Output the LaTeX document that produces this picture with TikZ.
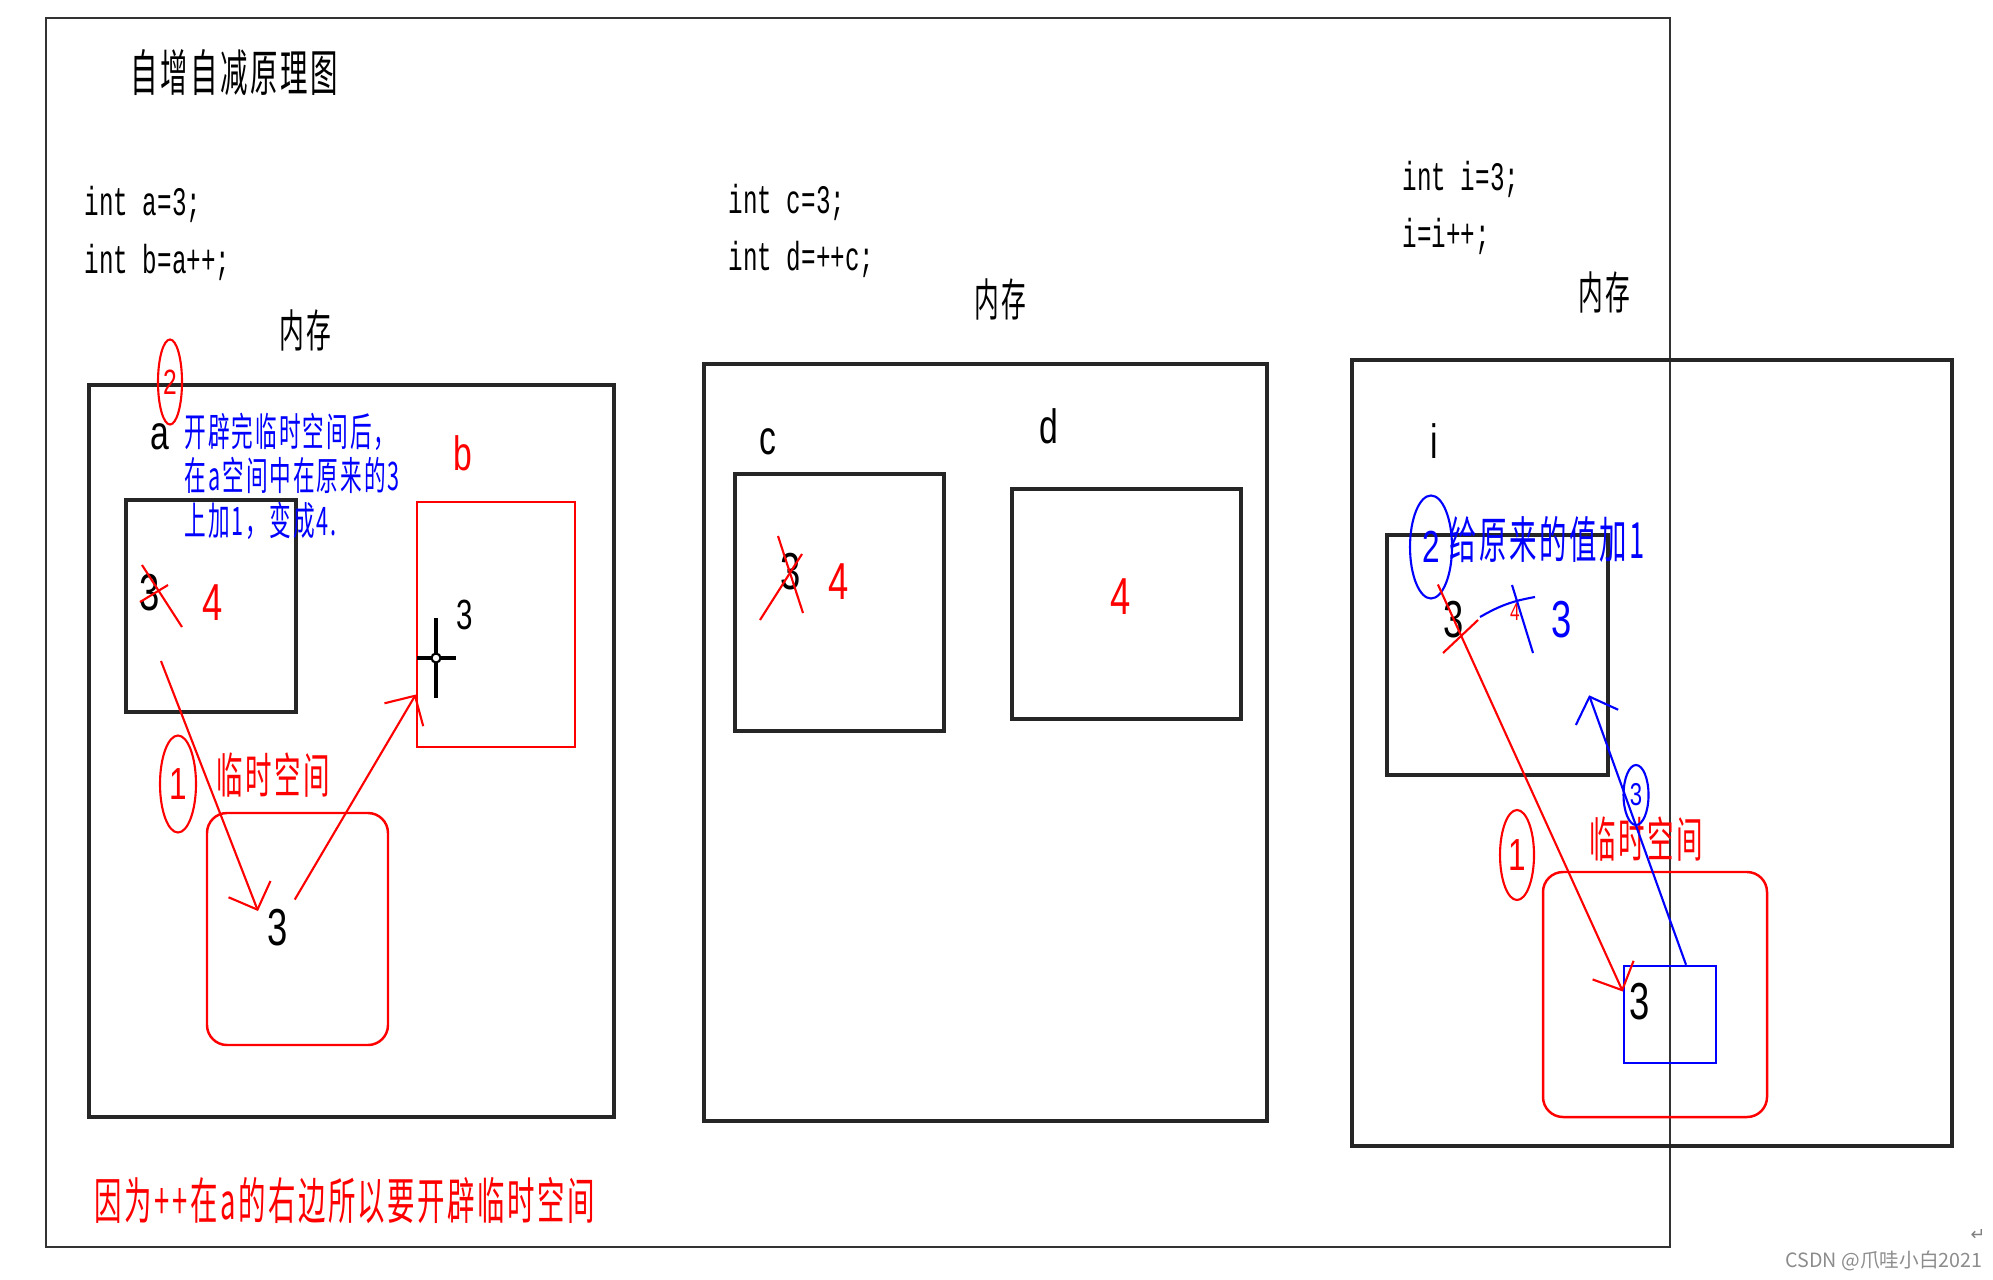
\documentclass[tikz,border=0pt]{standalone}
\usepackage{fontspec}
\setmainfont{Liberation Sans}[FakeStretch=0.7]
\newfontfamily\hanzi{Noto Sans CJK SC}[FakeStretch=0.55,LetterSpace=5]
\newfontfamily\codefont{Liberation Mono}[FakeStretch=0.6]
\newfontfamily\markfont{Noto Sans CJK SC}
\newfontfamily\symfont{DejaVu Sans}
\usetikzlibrary{shapes.geometric,arrows.meta}

\tikzset{
  frame/.style={draw=black!80, line width=0.45pt},
  membox/.style={draw=black!85, line width=0.9pt, inner sep=0pt},
  redbox/.style={draw=red, line width=0.7pt, inner sep=0pt},
  roundbox/.style={draw=red, line width=0.7pt, rounded corners=0.2cm, inner sep=0pt},
  cellbox/.style={draw=blue, line width=0.7pt, inner sep=0pt},
  code/.style={anchor=west, inner sep=0pt, font=\codefont\fontsize{11.5}{12}\selectfont},
  cjk/.style={inner sep=0pt, font=\hanzi\fontsize{#1}{#1}\selectfont},
  digit/.style={inner sep=0pt, font=\fontsize{#1}{#1}\selectfont},
  ring/.style={ellipse, draw, line width=0.6pt, inner sep=0pt},
  redpen/.style={draw=red, line width=0.6pt},
  bluepen/.style={draw=blue, line width=0.6pt},
  barb/.style={-{Straight Barb[length=2.2mm,width=4.5mm]}}
}

\begin{document}
\begin{tikzpicture}[x=1cm,y=-1cm]
\useasboundingbox (0,0) rectangle (19.93,12.79);

% ---------------- FRAME AND TITLE ----------------

\draw[frame] (0.46,0.18) rectangle (16.70,12.47);
\node[cjk=14.2] (title) at (2.34,0.73) {自增自减原理图};

% ---------------- b = a++ ----------------

\node[code] (codeA1) at (0.84,2.04) {int a=3;};
\node[code] (codeA2) at (0.84,2.62) {int b=a++;};
\node[cjk=12.8] (memlabA) at (3.05,3.30) {内存};

\node[membox, minimum width=5.25cm, minimum height=7.32cm] (memA) at (3.515,7.51) {};
\node[membox, minimum width=1.70cm, minimum height=2.12cm] (boxA) at (2.11,6.06) {};
\node[redbox, minimum width=1.58cm, minimum height=2.45cm] (boxB) at (4.96,6.245) {};
\node[roundbox, minimum width=1.81cm, minimum height=2.32cm] (tmpA) at (2.975,9.29) {};

\node[digit=13.7] (labA) at (1.60,4.37) {a};
\node[digit=13.7, text=red] (labB) at (4.63,4.53) {b};
\node[ring, red, minimum width=0.24cm, minimum height=0.85cm, font=\fontsize{10}{10}\selectfont] (ringA2) at (1.70,3.82) {2};
\node[cjk=11.2, text=blue, anchor=north west, align=left] (noteA) at (1.84,4.12)
  {开辟完临时空间后，\\[1.5pt]在a空间中在原来的3\\[1.5pt]上加1，变成4.};

\node[digit=14.8] (oldA) at (1.50,5.93) {3};
\node[digit=14.8, text=red] (newA) at (2.13,6.03) {4};
\draw[redpen] (1.42,5.65) -- (1.82,6.27);
\draw[redpen] (1.40,6.02) -- (1.68,5.85);
\node[digit=12] (valB) at (4.65,6.15) {3};

\node[ring, red, minimum width=0.36cm, minimum height=0.97cm, font=\fontsize{12.8}{12.8}\selectfont] (ringA1) at (1.78,7.84) {1};
\node[cjk=13.7, text=red] (tmplabA) at (2.73,7.75) {临时空间};
\node[digit=14.8] (tmpvalA) at (2.78,9.28) {3};

\draw[redpen, barb] ([xshift=0.11cm,yshift=-0.68cm]oldA.center) -- ([xshift=-0.20cm,yshift=0.17cm]tmpvalA.center);
\draw[redpen, barb, shorten <=0.33cm] (tmpvalA.center) -- ([yshift=-0.7cm]boxB.west);

% cursor
\draw[line width=1.2pt] (4.36,6.18) -- (4.36,6.98);
\draw[line width=1.2pt] (4.17,6.58) -- (4.56,6.58);
\draw[line width=0.6pt, fill=white] (4.36,6.58) circle (0.045);

\node[cjk=14.2, text=red] (footA) at (3.45,12.01) {因为++在a的右边所以要开辟临时空间};

% ---------------- d = ++c ----------------

\node[code] (codeC1) at (7.28,2.02) {int c=3;};
\node[code] (codeC2) at (7.28,2.59) {int d=++c;};
\node[cjk=12.8] (memlabC) at (10.00,2.99) {内存};

\node[membox, minimum width=5.63cm, minimum height=7.57cm] (memC) at (9.855,7.425) {};
\node[membox, minimum width=2.09cm, minimum height=2.57cm] (boxC) at (8.395,6.025) {};
\node[membox, minimum width=2.29cm, minimum height=2.30cm] (boxD) at (11.265,6.04) {};

\node[digit=13.7] (labC) at (7.68,4.42) {c};
\node[digit=13.7] (labD) at (10.49,4.26) {d};
\node[digit=14.8] (oldC) at (7.91,5.72) {3};
\node[digit=14.8, text=red] (newC) at (8.39,5.82) {4};
\draw[redpen] (7.78,5.36) -- (8.03,6.13);
\draw[redpen] (7.60,6.20) -- (8.02,5.54);
\node[digit=14.8, text=red] (valD) at (11.21,5.97) {4};

% ---------------- i = i++ ----------------

\node[code] (codeI1) at (14.02,1.79) {int i=3;};
\node[code] (codeI2) at (14.02,2.36) {i=i++;};
\node[cjk=12.8] (memlabI) at (16.04,2.92) {内存};

\node[membox, minimum width=6.00cm, minimum height=7.86cm] (memI) at (16.52,7.53) {};
\node[membox, minimum width=2.21cm, minimum height=2.40cm] (boxI) at (14.975,6.55) {};
\node[roundbox, minimum width=2.24cm, minimum height=2.45cm] (tmpI) at (16.55,9.945) {};
\node[cellbox, minimum width=0.92cm, minimum height=0.97cm] (cellI) at (16.70,10.145) {};

\node[digit=13.7] (labI) at (14.34,4.41) {i};
\node[ring, blue, minimum width=0.42cm, minimum height=1.03cm, font=\fontsize{12.8}{12.8}\selectfont, text=blue] (ringI2) at (14.31,5.47) {2};
\node[cjk=14.2, text=blue, anchor=west] (noteI) at (14.49,5.40) {给原来的值加1};

\node[digit=14.8] (oldI) at (14.54,6.20) {3};
\draw[redpen] (14.43,6.53) -- (14.78,6.20);
\node[digit=7, text=red] (smallI) at (15.15,6.12) {4};
\draw[bluepen] (14.80,6.17) to[bend left=10] (15.35,5.97);
\draw[bluepen] (15.12,5.85) -- (15.33,6.53);
\node[digit=14.8, text=blue] (newI) at (15.62,6.20) {3};

\node[ring, red, minimum width=0.34cm, minimum height=0.90cm, font=\fontsize{12.8}{12.8}\selectfont, text=red] (ringI1) at (15.17,8.55) {1};
\node[cjk=13.7, text=red] (tmplabI) at (16.46,8.39) {临时空间};
\node[digit=14.8] (tmpvalI) at (16.40,10.02) {3};

\draw[redpen, barb, shorten <=-0.39cm] (oldI.center) -- ([yshift=0.23cm]cellI.west);
\draw[bluepen, barb, shorten >=0.8cm] ([xshift=0.16cm]cellI.north) -- (newI.center);
\node[ring, blue, minimum width=0.25cm, minimum height=0.60cm, font=\fontsize{9}{9}\selectfont, text=blue] (ringI3) at (16.36,7.95) {3};

% ---------------- MARKS ----------------

\node[font=\markfont\fontsize{5.6}{6}\selectfont, text=black!45] (mark) at (18.84,12.61) {CSDN @爪哇小白2021};
\node[font=\symfont\fontsize{5}{6}\selectfont, text=black!50] (retmark) at (19.78,12.35) {↵};

\end{tikzpicture}
\end{document}
